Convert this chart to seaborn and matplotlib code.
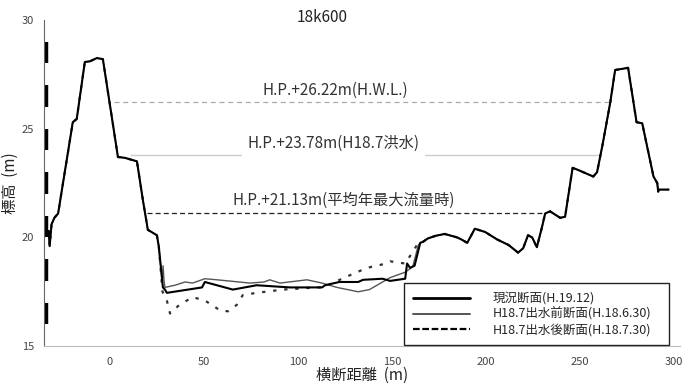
import matplotlib
matplotlib.use("Agg")
import matplotlib.pyplot as plt
from matplotlib.lines import Line2D
import seaborn as sns
import pandas as pd

# --- data ---
left_bank_x = [-32.5, -32.0, -31.0, -29.5, -27.5, -19.7, -17.6, -13.3, -10.6, -6.9, -3.7, 4.3, 8.0, 14.4, 17.6, 20.2, 25.0, 26.0]
left_bank_y = [20.3, 19.6, 20.6, 20.9, 21.1, 25.3, 25.45, 28.07, 28.1, 28.25, 28.2, 23.7, 23.66, 23.5, 21.7, 20.35, 20.1, 19.6]

right_bank_x = [165.0, 166.5, 169.0, 173.0, 178.0, 184.6, 187.0, 190.0, 194.0, 199.5, 206.0, 212.0, 217.0, 219.7, 222.3, 224.5, 227.0,
                229.8, 231.4, 234.0, 239.4, 242.0, 246.0, 249.0, 257.0, 259.0, 262.0, 266.0, 268.6, 275.5, 280.0, 283.0, 289.0,
                291.0, 291.5, 291.5, 297.0]
right_bank_y = [19.75, 19.8, 19.95, 20.07, 20.16, 20.0, 19.9, 19.75, 20.4, 20.25, 19.9, 19.65, 19.3, 19.5, 20.1, 20.0, 19.55,
                20.5, 21.1, 21.2, 20.9, 20.95, 23.2, 23.1, 22.8, 23.0, 24.3, 26.2, 27.7, 27.8, 25.3, 25.25, 22.8,
                22.5, 22.1, 22.2, 22.2]

now_x = [28.2, 29.3, 30.3, 49.0, 50.5, 65.4, 78.0, 95.7, 112.8, 114.4, 122.0, 132.0, 134.6, 145.0, 149.0, 157.0, 158.0, 159.6, 162.0]
now_y = [17.7, 17.6, 17.45, 17.7, 17.95, 17.6, 17.8, 17.7, 17.7, 17.8, 17.95, 17.95, 18.05, 18.1, 18.0, 18.1, 18.8, 18.6, 18.7]

before_x = [27.8, 28.3, 28.8, 29.3, 34.6, 40.0, 44.0, 50.5, 57.0, 74.5, 82.0, 85.0, 90.4, 104.8, 112.8, 120.7, 132.0, 138.0,
            149.0, 157.0, 161.0, 164.0]
before_y = [18.0, 18.7, 18.0, 17.7, 17.8, 17.95, 17.9, 18.1, 18.05, 17.9, 17.95, 18.05, 17.9, 18.05, 17.9, 17.7, 17.5, 17.6,
            18.15, 18.4, 18.65, 19.65]

after_x = [28.0, 30.3, 32.0, 37.0, 44.0, 50.5, 58.5, 62.8, 67.5, 70.7, 78.0, 92.0, 110.0, 113.3, 126.0, 136.7, 147.0, 149.0,
           157.0, 160.0, 164.0]
after_y = [17.5, 17.1, 16.5, 16.9, 17.25, 17.1, 16.65, 16.6, 16.9, 17.35, 17.45, 17.6, 17.7, 17.7, 18.2, 18.6, 18.8, 18.9,
           18.8, 19.2, 19.75]

levels = [26.22, 23.78, 21.13]
level_start = [2, 10.6, 20]
level_end = [266, 260, 230]
level_labels = ["H.P.+26.22m(H.W.L.)", "H.P.+23.78m(H18.7洪水)", "H.P.+21.13m(平均年最大流量時)"]
level_text_x = [120, 119, 124.5]
level_text_y = [26.78, 24.35, 21.72]

ruler_from = [16, 18, 20, 22, 24, 26, 28]

series_names = ["現況断面(H.19.12)", "H18.7出水前断面(H.18.6.30)", "H18.7出水後断面(H.18.7.30)"]


def profile(mid_x, mid_y):
    xs = left_bank_x + mid_x + right_bank_x
    ys = left_bank_y + mid_y + right_bank_y
    return pd.DataFrame({"x": xs, "y": ys})


sns.set_style("white")
plt.rcParams['font.family'] = ['Noto Sans CJK JP', 'DejaVu Sans']

fig = plt.figure(figsize=(6.93, 3.85), dpi=100)
ax = fig.add_axes([0.0635, 0.101, 0.9175, 0.847])

# water level lines
ax.hlines(levels[0], level_start[0], level_end[0], colors="#aaaaaa", linestyles=(0, (4, 3)), lw=0.9)
ax.hlines(levels[1], level_start[1], level_end[1], colors="#cccccc", linestyles="solid", lw=1.0)
ax.hlines(levels[2], level_start[2], level_end[2], colors="#222222", linestyles=(0, (4, 2.5)), lw=0.9)

for i, (lx, ly, lt) in enumerate(zip(level_text_x, level_text_y, level_labels)):
    box = dict(facecolor="white", edgecolor="none", pad=4) if i == 1 else None
    ax.text(lx, ly, lt, ha="center", va="center", fontsize=11, color="#333333", bbox=box)

sns.lineplot(data=profile(after_x, after_y), x="x", y="y", sort=False, estimator=None, ax=ax,
             color="#333333", lw=1.6, linestyle=(0, (1.5, 3.5)))
sns.lineplot(data=profile(before_x, before_y), x="x", y="y", sort=False, estimator=None, ax=ax,
             color="#555555", lw=1.0)
sns.lineplot(data=profile(now_x, now_y), x="x", y="y", sort=False, estimator=None, ax=ax,
             color="black", lw=1.5)

# thick ruler marks along the left edge
ax.vlines([-34.0] * len(ruler_from), ruler_from, [r + 1 for r in ruler_from], colors="black", lw=3.2)

ax.set_xlim(-35, 303)
ax.set_ylim(15, 30)
ax.set_xticks([0, 50, 100, 150, 200, 250, 300])
ax.set_yticks([15, 20, 25, 30])
ax.tick_params(axis="both", labelsize=8, colors="#444444", length=4, width=0.8, pad=3)
ax.tick_params(axis="x", direction="out", length=6, pad=2)
ax.set_xlabel("横断距離  (m)", fontsize=11, color="#222222", labelpad=0)
ax.set_ylabel("標高  (m)", fontsize=11, color="#222222", labelpad=2)

for s in ["top", "right"]:
    ax.spines[s].set_visible(False)
ax.spines["left"].set_color("#666666")
ax.spines["left"].set_linewidth(0.8)
ax.spines["bottom"].set_color("#bbbbbb")
ax.spines["bottom"].set_linestyle((0, (1, 1)))
ax.spines["bottom"].set_linewidth(0.8)

fig.text(322 / 693, 1 - 18 / 385, "18k600", ha="center", va="center", fontsize=11, color="#222222")

handles = [Line2D([], [], color="black", lw=2.0),
           Line2D([], [], color="#555555", lw=1.4),
           Line2D([], [], color="black", lw=1.6, linestyle=(0, (3, 1.2)))]
leg = ax.legend(handles, series_names, loc="lower left", bbox_to_anchor=(0.566, 0.003, 0.417, 0.193),
                mode="expand", fontsize=9, handlelength=4.6, handletextpad=1.8, labelspacing=0.2,
                borderpad=0.7, borderaxespad=0, fancybox=False, framealpha=1)
leg.get_frame().set_edgecolor("#222222")
leg.get_frame().set_linewidth(1.0)

fig.savefig("out.png", dpi=100)
